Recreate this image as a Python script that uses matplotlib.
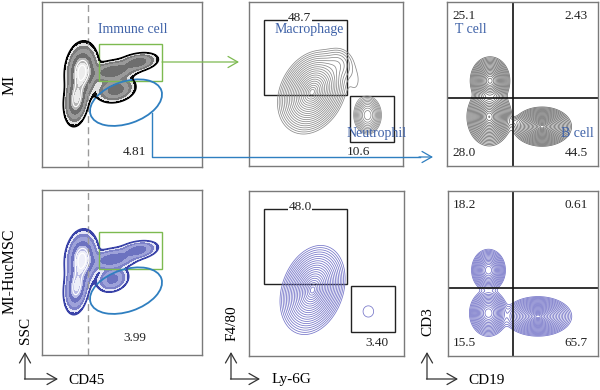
import numpy as np
import matplotlib.pyplot as plt
from matplotlib.patches import Rectangle, Ellipse

plt.rcParams['font.family'] = ['Liberation Serif', 'DejaVu Serif']

# cell populations, in panel units (0-1)
# (centre x, centre y, sd x, sd y, correlation, weight)
mi_cd45 = [(0.25, 0.58, 0.042, 0.07, 0.1, 1.0), (0.215, 0.41, 0.032, 0.065, 0.2, 0.8),
           (0.44, 0.58, 0.07, 0.03, 0.3, 0.5), (0.60, 0.635, 0.055, 0.025, 0.3, 0.45),
           (0.46, 0.47, 0.055, 0.035, 0.2, 0.45)]
huc_cd45 = [(0.25, 0.58, 0.042, 0.07, 0.1, 1.0), (0.215, 0.41, 0.032, 0.065, 0.2, 0.8),
            (0.44, 0.58, 0.07, 0.03, 0.3, 0.5), (0.60, 0.635, 0.055, 0.025, 0.3, 0.45),
            (0.44, 0.46, 0.045, 0.035, 0.2, 0.4)]
mi_ly6g = [(0.41, 0.45, 0.075, 0.085, 0.25, 1.0), (0.77, 0.31, 0.035, 0.045, 0.0, 0.3),
           (0.58, 0.62, 0.05, 0.05, 0.0, 0.06), (0.69, 0.52, 0.035, 0.07, 0.0, 0.012)]
huc_ly6g = [(0.41, 0.40, 0.07, 0.09, 0.25, 1.0), (0.77, 0.27, 0.05, 0.05, 0.0, 0.014)]
mi_cd19 = [(0.285, 0.52, 0.045, 0.05, 0.0, 0.8), (0.28, 0.30, 0.05, 0.06, 0.0, 0.9),
           (0.63, 0.24, 0.065, 0.04, 0.0, 1.0), (0.45, 0.27, 0.03, 0.015, 0.0, 0.02)]
huc_cd19 = [(0.27, 0.52, 0.04, 0.045, 0.0, 0.6), (0.27, 0.26, 0.045, 0.05, 0.0, 0.6),
            (0.60, 0.24, 0.075, 0.04, 0.0, 1.0)]

mi_pct = ["4.81", "48.7", "10.6", "25.1", "2.43", "28.0", "44.5"]
huc_pct = ["3.99", "48.0", "3.40", "18.2", "0.61", "15.5", "65.7"]
row_names = ["MI", "MI-HucMSC"]
axis_names = ["SSC", "CD45", "F4/80", "Ly-6G", "CD3", "CD19"]

BLUE_TXT = '#3f62a8'
GREEN = '#7dba50'
ELL = '#2f7fc0'


def density(pops, n=260):
    g = np.linspace(0, 1, n)
    X, Y = np.meshgrid(g, g)
    Z = np.zeros_like(X)
    for cx, cy, sx, sy, r, w in pops:
        dx = (X - cx) / sx
        dy = (Y - cy) / sy
        Z += w * np.exp(-(dx * dx - 2 * r * dx * dy + dy * dy) / (2 * (1 - r * r)))
    return X, Y, Z / Z.max()


fig = plt.figure(figsize=(6, 3.9), dpi=100)


def panel(x0, y0, x1, y1):
    ax = fig.add_axes([x0 / 600, 1 - y1 / 390, (x1 - x0) / 600, (y1 - y0) / 390])
    ax.set_xlim(0, 1)
    ax.set_ylim(0, 1)
    ax.set_xticks([])
    ax.set_yticks([])
    for s in ax.spines.values():
        s.set_color('#7a7a7a')
        s.set_linewidth(1.0)
    return ax


def zebra(ax, pops, fills, edge):
    X, Y, Z = density(pops)
    lv = [0.03, 0.055, 0.09, 0.16, 0.3, 0.5, 0.75, 1.01]
    ax.contourf(X, Y, Z, levels=lv, colors=fills)
    ax.contour(X, Y, Z, levels=[0.62, 0.85], colors='white', linewidths=0.8)
    ax.contour(X, Y, Z, levels=[0.03], colors=edge, linewidths=1.2)


def lines(ax, pops, color, n=20):
    X, Y, Z = density(pops)
    lv = np.sort(np.exp(-0.5 * np.linspace(0.2, 3.0, n) ** 2))
    ax.contour(X, Y, Z, levels=lv, colors=color, linewidths=0.55)


def cd45_panel(ax, pops, fills, edge, pct, y_pct):
    ax.axvline(0.29, color='#9a9a9a', lw=1.0, ls=(0, (5, 3)))
    zebra(ax, pops, fills, edge)
    ax.add_patch(Rectangle((0.356, 0.522), 0.394, 0.223, fill=False, ec=GREEN, lw=1.0))
    ax.add_patch(Ellipse((0.525, 0.39), 0.466, 0.255, angle=18, fill=False, ec=ELL, lw=1.3))
    ax.text(0.58, y_pct, pct, ha='center', va='center', fontsize=9.5, color='#222')


def ly6g_panel(ax, pops, color, pct):
    lines(ax, pops, color)
    ax.add_patch(Rectangle((0.097, 0.435), 0.537, 0.458, fill=False, ec='#222', lw=1.0))
    ax.add_patch(Rectangle((0.657, 0.148), 0.285, 0.278, fill=False, ec='#222', lw=1.0))
    ax.text(0.33, 0.905, pct[0], ha='center', va='center', fontsize=9.5, color='#222',
            bbox=dict(fc='white', ec='none', pad=0.5))


def cd19_panel(ax, pops, color, pct, qx, qy):
    lines(ax, pops, color, 22)
    ax.axvline(qx, color='#111', lw=1.2)
    ax.axhline(qy, color='#111', lw=1.2)
    ax.text(0.035, 0.915, pct[0], ha='left', va='center', fontsize=9.5, color='#222')
    ax.text(0.93, 0.915, pct[1], ha='right', va='center', fontsize=9.5, color='#222')
    ax.text(0.035, 0.08, pct[2], ha='left', va='center', fontsize=9.5, color='#222')
    ax.text(0.93, 0.08, pct[3], ha='right', va='center', fontsize=9.5, color='#222')


# top row: MI
ax = panel(42, 2, 202, 167)
cd45_panel(ax, mi_cd45,
           ['#111111', '#e2e2e2', '#7c7c7c', '#9a9a9a', '#6e6e6e', '#b4b4b4', '#ececec'],
           'black', mi_pct[0], 0.09)
ax.text(0.57, 0.836, "Immune cell", ha='center', va='center', fontsize=10, color=BLUE_TXT)

ax = panel(249, 2, 403, 166)
ly6g_panel(ax, mi_ly6g, '#8a8a8a', mi_pct[1:3])
ax.text(0.39, 0.835, "Macrophage", ha='center', va='center', fontsize=10, color=BLUE_TXT)
ax.text(0.83, 0.2, "Neutrophil", ha='center', va='center', fontsize=10, color=BLUE_TXT,
        clip_on=False)
ax.text(0.71, 0.085, mi_pct[2], ha='center', va='center', fontsize=9.5, color='#222')

ax = panel(447, 2, 598, 166)
cd19_panel(ax, mi_cd19, '#6a6a6a', mi_pct[3:], 0.437, 0.415)
ax.text(0.055, 0.835, "T cell", ha='left', va='center', fontsize=10, color=BLUE_TXT)
ax.text(0.97, 0.2, "B cell", ha='right', va='center', fontsize=10, color=BLUE_TXT)

# bottom row: MI-HucMSC
ax = panel(42, 190, 202, 355)
cd45_panel(ax, huc_cd45,
           ['#3a43a8', '#e4e5f6', '#7d82c9', '#9ea2d9', '#6c72c0', '#b9bce5', '#eeeff9'],
           '#3a43a8', huc_pct[0], 0.103)

ax = panel(249, 191, 404, 356)
ly6g_panel(ax, huc_ly6g, '#7474c8', huc_pct[1:3])
ax.text(0.826, 0.08, huc_pct[2], ha='center', va='center', fontsize=9.5, color='#222')

ax = panel(448, 191, 598, 356)
cd19_panel(ax, huc_cd19, '#7070c6', huc_pct[3:], 0.433, 0.412)

# overlay in pixel coordinates for connectors, axis arrows and row labels
ov = fig.add_axes([0, 0, 1, 1])
ov.set_xlim(0, 600)
ov.set_ylim(390, 0)
ov.axis('off')
head = dict(arrowstyle='->,head_length=0.7,head_width=0.4', lw=0.9, shrinkA=0, shrinkB=0)

ov.annotate('', xy=(239, 62), xytext=(162, 62), arrowprops=dict(head, color=GREEN))
ov.plot([152, 152, 420], [113, 157, 157], color=ELL, lw=1.0)
ov.annotate('', xy=(433, 157), xytext=(419, 157), arrowprops=dict(head, color=ELL))

for x0, xe, yl, xl, i in [(25, 58, 330, 68, 0), (231, 260, 323, 272, 2), (427, 458, 322, 468, 4)]:
    ov.annotate('', xy=(x0, 352), xytext=(x0, 379), arrowprops=dict(head, color='#333'))
    ov.annotate('', xy=(xe, 379), xytext=(x0 - 0.5, 379), arrowprops=dict(head, color='#333'))
    ov.text(x0 + 1, yl, axis_names[i], rotation=90, ha='center', va='center', fontsize=11)
    ov.text(xl, 380, axis_names[i + 1], ha='left', va='center', fontsize=11)

ov.text(10, 85, row_names[0], rotation=90, ha='center', va='center', fontsize=12)
ov.text(10, 271, row_names[1], rotation=90, ha='center', va='center', fontsize=11.5)

fig.savefig('out.png', dpi=100)
